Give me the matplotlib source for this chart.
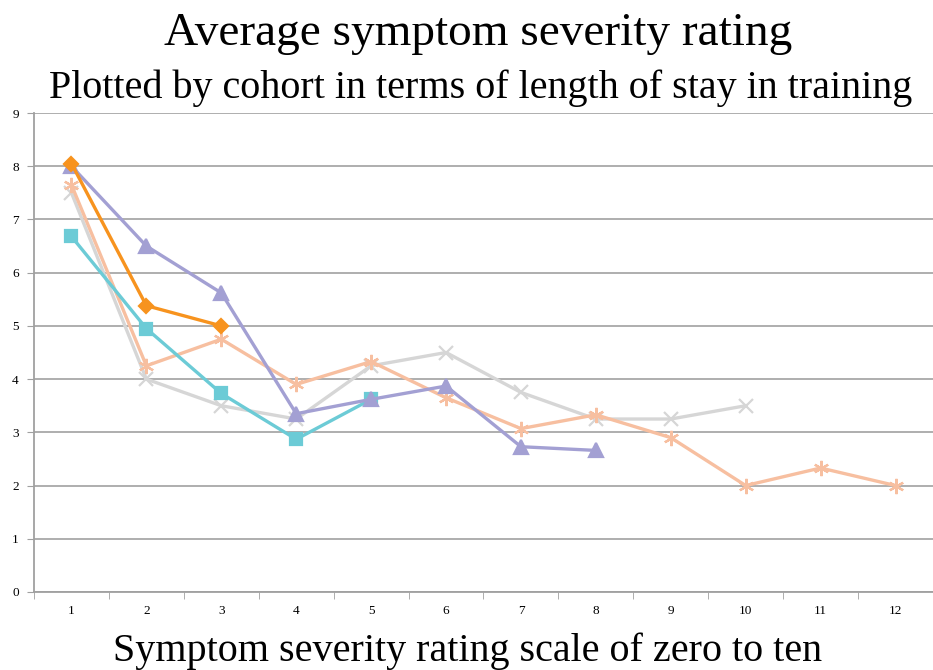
import numpy as np
from matplotlib import pyplot as plt

CATEGORIES = list(range(1, 13))

ORANGE = [8.05, 5.38, 5.0]
CYAN = [6.68, 4.95, 3.73, 2.87, 3.62]
PURPLE = [8.0, 6.5, 5.62, 3.35, 3.62, 3.87, 2.73, 2.66]
GRAY = [7.5, 4.0, 3.5, 3.25, 4.25, 4.5, 3.75, 3.25, 3.25, 3.5]
PEACH = [7.65, 4.25, 4.75, 3.9, 4.33, 3.65, 3.07, 3.33, 2.9, 2.0, 2.33, 2.0]

SERIES = [
    (GRAY, "#d6d6d6", "x", 10),
    (PEACH, "#f7bfa0", (6, 2, 0), 11),
    (CYAN, "#6ccbd6", "s", 9),
    (PURPLE, "#a3a0d3", "^", 10),
    (ORANGE, "#f7931e", "D", 7),
]


def main():
    plt.rcParams["font.family"] = ["Liberation Serif", "DejaVu Serif"]
    fig = plt.figure(figsize=(9.33, 6.70), dpi=100)
    ax = fig.add_axes([34 / 933, 78 / 670, 1 - 34 / 933, (592 - 113) / 670])

    for values, color, marker, size in SERIES:
        x = CATEGORIES[: len(values)]
        ax.plot(x, values, color=color, lw=2.4, marker=marker, markersize=size,
                markeredgewidth=1.6, markeredgecolor=color, markerfacecolor=color)

    ax.set_xlim(0.5, 12.5)
    ax.set_ylim(0, 9)
    ax.set_yticks(range(0, 10))
    ax.set_xticks(CATEGORIES)
    ax.set_xticks(np.arange(0.5, 13, 1), minor=True)
    ax.tick_params(axis="x", which="major", length=0, pad=9, labelsize=9.5)
    ax.tick_params(axis="x", which="minor", length=5, color="#a0a0a0", direction="out")
    ax.tick_params(axis="y", length=5, color="#a0a0a0", labelsize=9.5, pad=6)
    ax.grid(axis="y", color="#a8a8a8", lw=1.3)
    ax.set_axisbelow(True)
    for side in ["top", "right"]:
        ax.spines[side].set_visible(False)
    for side in ["left", "bottom"]:
        ax.spines[side].set_color("#a0a0a0")
        ax.spines[side].set_linewidth(1.3)

    fig.text(0.512, 0.950, "Average symptom severity rating", ha="center", va="center", fontsize=34)
    fig.text(0.515, 0.869, "Plotted by cohort in terms of length of stay in training", ha="center",
             va="center", fontsize=28.9)
    fig.text(0.501, 0.028, "Symptom severity rating scale of zero to ten", ha="center", va="center",
             fontsize=28.9)

    fig.savefig("out.png", dpi=100)


if __name__ == "__main__":
    main()
